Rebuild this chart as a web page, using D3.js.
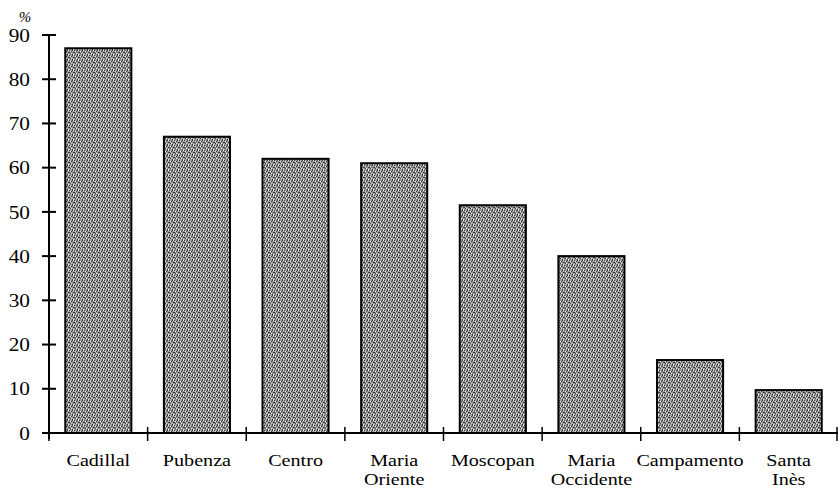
<!DOCTYPE html>
<html>
<head>
<meta charset="utf-8">
<script src="https://cdn.jsdelivr.net/npm/d3@7/dist/d3.min.js"></script>
<style>
  body { margin: 0; background: #fff; }
  svg text { font-family: "Liberation Serif", "Times New Roman", serif; fill: #000; }
</style>
</head>
<body>
<svg id="chart"></svg>
<script>
// data
var places = ['Cadillal', 'Pubenza', 'Centro', 'Maria Oriente', 'Moscopan',
              'Maria Occidente', 'Campamento', 'Santa Inès'];
var shares = [87, 67, 62, 61, 51.5, 40, 16.5, 9.7];
var yTicks = [0, 10, 20, 30, 40, 50, 60, 70, 80, 90];

// layout
var width = 840;
var height = 490;
var margin = {top: 35, right: 2, bottom: 57, left: 49};
var innerW = width - margin.left - margin.right;
var innerH = height - margin.top - margin.bottom;

var svg = d3.select('#chart')
  .attr('width', width)
  .attr('height', height);

// halftone-ish texture for the bars (fixed dot layout)
var defs = svg.append('defs');
var pat = defs.append('pattern')
  .attr('id', 'stipple')
  .attr('patternUnits', 'userSpaceOnUse')
  .attr('width', 5)
  .attr('height', 5);
pat.append('rect').attr('width', 5).attr('height', 5).attr('fill', '#9c9c9c');
[[0, 0], [2, 1], [4, 2], [1, 3], [3, 4], [3, 0], [0, 2]].forEach(function(p) {
  pat.append('rect')
    .attr('x', p[0]).attr('y', p[1])
    .attr('width', 1).attr('height', 1)
    .attr('fill', '#3a3a3a');
});
[[1, 1], [4, 4], [2, 3], [4, 0]].forEach(function(p) {
  pat.append('rect')
    .attr('x', p[0]).attr('y', p[1])
    .attr('width', 1).attr('height', 1)
    .attr('fill', '#e6e6e6');
});

var g = svg.append('g')
  .attr('transform', 'translate(' + margin.left + ',' + margin.top + ')');

// scales
var x = d3.scaleBand()
  .domain(places)
  .range([0, innerW])
  .paddingInner(0.33)
  .paddingOuter(0.165);

var y = d3.scaleLinear()
  .domain([0, 90])
  .range([innerH, 0]);

// bars
g.selectAll('rect.bar')
  .data(places)
  .enter()
  .append('rect')
    .attr('class', 'bar')
    .attr('x', function(d) { return x(d); })
    .attr('y', function(d, i) { return y(shares[i]); })
    .attr('width', x.bandwidth())
    .attr('height', function(d, i) { return innerH - y(shares[i]); })
    .attr('fill', 'url(#stipple)')
    .attr('stroke', '#000')
    .attr('stroke-width', 2);

// y axis: line + crossing ticks
var yAxis = g.append('g').attr('class', 'y-axis');
yAxis.append('line')
  .attr('x1', 0).attr('x2', 0)
  .attr('y1', y(90)).attr('y2', innerH + 6)
  .attr('stroke', '#000').attr('stroke-width', 2);
yAxis.selectAll('line.tick')
  .data(yTicks)
  .enter()
  .append('line')
    .attr('class', 'tick')
    .attr('x1', -7).attr('x2', 7)
    .attr('y1', function(d) { return y(d); })
    .attr('y2', function(d) { return y(d); })
    .attr('stroke', '#000').attr('stroke-width', 2);
yAxis.selectAll('text')
  .data(yTicks)
  .enter()
  .append('text')
    .attr('transform', function(d) { return 'translate(-19,' + y(d) + ') scale(1.12,1)'; })
    .attr('dy', '0.35em')
    .attr('text-anchor', 'end')
    .style('font-size', '19px')
    .text(function(d) { return d; });
g.append('text')
  .attr('x', -24)
  .attr('y', -13)
  .attr('text-anchor', 'middle')
  .style('font-size', '15px')
  .style('font-style', 'italic')
  .text('%');

// x axis: baseline + ticks at band boundaries
var xAxis = g.append('g').attr('class', 'x-axis');
xAxis.append('line')
  .attr('x1', 0).attr('x2', innerW)
  .attr('y1', innerH).attr('y2', innerH)
  .attr('stroke', '#000').attr('stroke-width', 2);
var bounds = places.map(function(d) { return x(d) - x.step() * x.paddingInner() / 2; });
bounds.push(innerW - 1);
xAxis.selectAll('line.tick')
  .data(bounds)
  .enter()
  .append('line')
    .attr('class', 'tick')
    .attr('x1', function(d) { return d; })
    .attr('x2', function(d) { return d; })
    .attr('y1', innerH - 6).attr('y2', innerH + 8)
    .attr('stroke', '#000').attr('stroke-width', 1.5);

// category labels, two words go on two lines
var labels = xAxis.selectAll('text')
  .data(places)
  .enter()
  .append('text')
    .attr('transform', function(d) {
      return 'translate(' + (x(d) + x.bandwidth() / 2) + ',' + (innerH + 33) + ') scale(1.15,1)';
    })
    .attr('text-anchor', 'middle')
    .style('font-size', '17.5px');
labels.each(function(d) {
  var words = d === 'Campamento' ? [d] : d.split(' ');
  var t = d3.select(this);
  words.forEach(function(w, i) {
    t.append('tspan')
      .attr('x', 0)
      .attr('dy', i === 0 ? 0 : 19.5)
      .text(w);
  });
});
</script>
</body>
</html>
